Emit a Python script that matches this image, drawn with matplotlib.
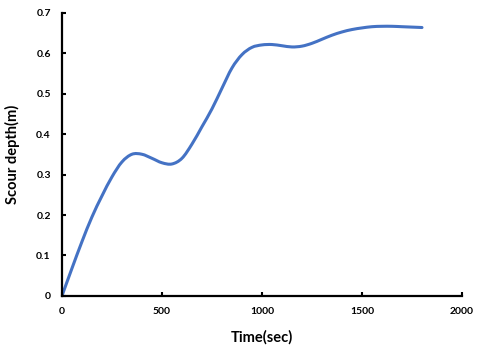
import numpy as np
import matplotlib
matplotlib.use("Agg")
import matplotlib.pyplot as plt
from matplotlib.path import Path
from matplotlib.patches import PathPatch

# scour depth vs time
time_sec = [0, 50, 100, 150, 200, 250, 300, 350, 400, 450, 500, 550, 600, 650,
            700, 750, 800, 850, 900, 950, 1000, 1050, 1100, 1150, 1200, 1250,
            1300, 1350, 1400, 1450, 1500, 1550, 1600, 1650, 1700, 1750, 1800]
depth_m = [0, 0.068, 0.134, 0.195, 0.247, 0.294, 0.331, 0.350, 0.350, 0.340, 0.329,
           0.326, 0.340, 0.375, 0.418, 0.462, 0.513, 0.563, 0.596, 0.614, 0.620,
           0.621, 0.618, 0.615, 0.617, 0.624, 0.634, 0.644, 0.652, 0.658, 0.662,
           0.665, 0.666, 0.666, 0.665, 0.664, 0.663]
xticks = [0, 500, 1000, 1500, 2000]
yticks = [0, 0.1, 0.2, 0.3, 0.4, 0.5, 0.6, 0.7]

def smooth_path(x, y):
    # Excel-style smoothed line: cubic Bezier segments through the points
    p = np.column_stack([x, y]).astype(float)
    verts = [p[0]]; codes = [Path.MOVETO]
    n = len(p)
    for i in range(n - 1):
        p0 = p[max(i - 1, 0)]; p1 = p[i]; p2 = p[i + 1]; p3 = p[min(i + 2, n - 1)]
        c1 = p1 + (p2 - p0) / 6.0
        c2 = p2 - (p3 - p1) / 6.0
        verts += [c1, c2, p2]; codes += [Path.CURVE4] * 3
    return Path(verts, codes)

plt.rcParams['font.family'] = ['Lato', 'DejaVu Sans']
fig = plt.figure(figsize=(4.8, 3.53), dpi=100)
ax = fig.add_axes([0.129, 0.1615, 0.8335, 0.803])
ax.add_patch(PathPatch(smooth_path(time_sec, depth_m), fill=False,
                       edgecolor="#4472C4", lw=2.2, capstyle="round", joinstyle="round"))
ax.set_xlim(0, 2000); ax.set_ylim(0, 0.7)
ax.set_xticks(xticks); ax.set_yticks(yticks)
ax.set_xticklabels([str(v) for v in xticks], fontweight="bold", fontsize=7.5)
ax.set_yticklabels(["0" if v == 0 else f"{v:.1f}" for v in yticks], fontweight="bold", fontsize=7.5)
for s in ["top", "right"]:
    ax.spines[s].set_visible(False)
for s in ["left", "bottom"]:
    ax.spines[s].set_linewidth(1.6)
ax.tick_params(direction="in", length=3, width=1.5, pad=8)
ax.set_xlabel("Time(sec)", fontweight="bold", fontsize=10.5, labelpad=10)
ax.set_ylabel("Scour depth(m)", fontweight="bold", fontsize=10.5, labelpad=12)
fig.savefig("out.png", dpi=100)
